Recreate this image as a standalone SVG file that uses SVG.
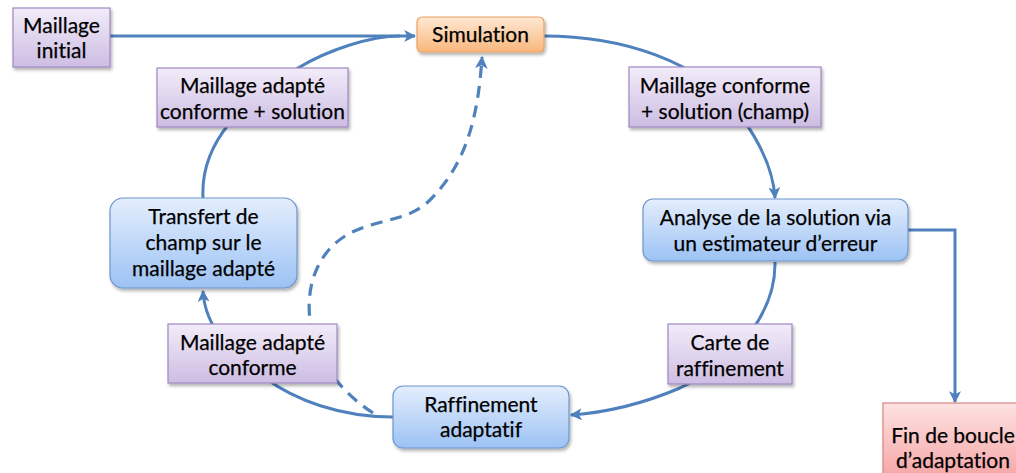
<svg xmlns="http://www.w3.org/2000/svg" width="1016" height="473" viewBox="0 0 1016 473">
<defs>
<linearGradient id="gPurple" x1="0" y1="0" x2="0" y2="1"><stop offset="0" stop-color="#F2ECF9"/><stop offset="1" stop-color="#CDBDE3"/></linearGradient>
<linearGradient id="gBlue" x1="0" y1="0" x2="0" y2="1"><stop offset="0" stop-color="#E4EEFD"/><stop offset="1" stop-color="#9CC2F4"/></linearGradient>
<linearGradient id="gOrange" x1="0" y1="0" x2="0" y2="1"><stop offset="0" stop-color="#FEE8D4"/><stop offset="1" stop-color="#F9B77C"/></linearGradient>
<linearGradient id="gRed" x1="0" y1="0" x2="0" y2="1"><stop offset="0" stop-color="#FDE3E3"/><stop offset="1" stop-color="#F6A5A5"/></linearGradient>
<filter id="sh" x="-10%" y="-10%" width="130%" height="140%"><feDropShadow dx="1.5" dy="2.5" stdDeviation="1.8" flood-color="#000" flood-opacity="0.3"/></filter>
<marker id="ah" viewBox="0 0 10 10" refX="9" refY="5" markerWidth="4" markerHeight="4" orient="auto" markerUnits="strokeWidth"><path d="M0,0 L10,5 L0,10 L2.5,5 Z" fill="#4F81BD"/></marker>
<style>
.c{fill:none;stroke:#4F81BD;stroke-width:3}
.d{fill:none;stroke:#4F81BD;stroke-width:3.2;stroke-dasharray:12 8}
.p{fill:url(#gPurple);stroke:#9E88C0;stroke-width:1.2;filter:url(#sh)}
.b{fill:url(#gBlue);stroke:#6D96CC;stroke-width:1.2;filter:url(#sh)}
.o{fill:url(#gOrange);stroke:#EBA062;stroke-width:1.2;filter:url(#sh)}
.r{fill:url(#gRed);stroke:#D98484;stroke-width:1.2;filter:url(#sh)}
text{font-family:Lato,"Open Sans","Liberation Sans",sans-serif;font-size:21px;fill:#000;stroke:#000;stroke-width:0.25;text-anchor:middle;font-variant-ligatures:none}
</style>
</defs>
<g id="connectors">
<path class="c" d="M110,36 L415,36" marker-end="url(#ah)"/>
<path class="c" d="M203,198 C200,140 245,100 298,68 C328,50 370,36 400,36"/>
<path class="c" d="M544,36 C620,36 700,60 740,115 C754,134 773,165 775,198" marker-end="url(#ah)"/>
<path class="c" d="M775,262 C776,310 740,360 680,388 C640,405 600,413 571,415" marker-end="url(#ah)"/>
<path class="c" d="M393,417 C340,417 295,400 265,378 C235,356 205,330 203,291" marker-end="url(#ah)"/>
<path class="c" d="M908,230 L955,230 L955,402" marker-end="url(#ah)"/>
<path class="d" d="M373,413 C350,398 318,370 310,320 C305,280 322,244 357,230 C385,218 410,220 430,200 C465,165 478,120 482,57" marker-end="url(#ah)"/>
</g>
<g id="maillage-initial"><rect class="p" x="13" y="8" width="97" height="59"/><text x="61.5" y="33">Maillage</text><text x="61.5" y="58">initial</text></g>
<g id="simulation"><rect class="o" x="417" y="17" width="127" height="35" rx="5"/><text x="480.5" y="42">Simulation</text></g>
<g id="maillage-adapte-conforme-solution"><rect class="p" x="157" y="68" width="191" height="59"/><text x="252.5" y="93">Maillage adapté</text><text x="252.5" y="119">conforme + solution</text></g>
<g id="maillage-conforme-solution"><rect class="p" x="629" y="67" width="192" height="60"/><text x="725" y="93">Maillage conforme</text><text x="725" y="119">+ solution (champ)</text></g>
<g id="analyse"><rect class="b" x="643" y="199" width="265" height="62" rx="10"/><text x="775.5" y="225">Analyse de la solution via</text><text x="775.5" y="251">un estimateur d’erreur</text></g>
<g id="transfert"><rect class="b" x="110" y="198" width="187" height="90" rx="13"/><text x="203.5" y="224">Transfert de</text><text x="203.5" y="250">champ sur le</text><text x="203.5" y="276">maillage adapté</text></g>
<g id="maillage-adapte-conforme"><rect class="p" x="168" y="324" width="169" height="59"/><text x="252.5" y="350">Maillage adapté</text><text x="252.5" y="375">conforme</text></g>
<g id="carte"><rect class="p" x="668" y="324" width="124" height="60"/><text x="730" y="350">Carte de</text><text x="730" y="376">raffinement</text></g>
<g id="raffinement"><rect class="b" x="393" y="386" width="176" height="62" rx="10"/><text x="481" y="412">Raffinement</text><text x="481" y="437">adaptatif</text></g>
<g id="fin"><rect class="r" x="883" y="403" width="140" height="75"/><text x="953" y="443">Fin de boucle</text><text x="953" y="468">d’adaptation</text></g>
</svg>
